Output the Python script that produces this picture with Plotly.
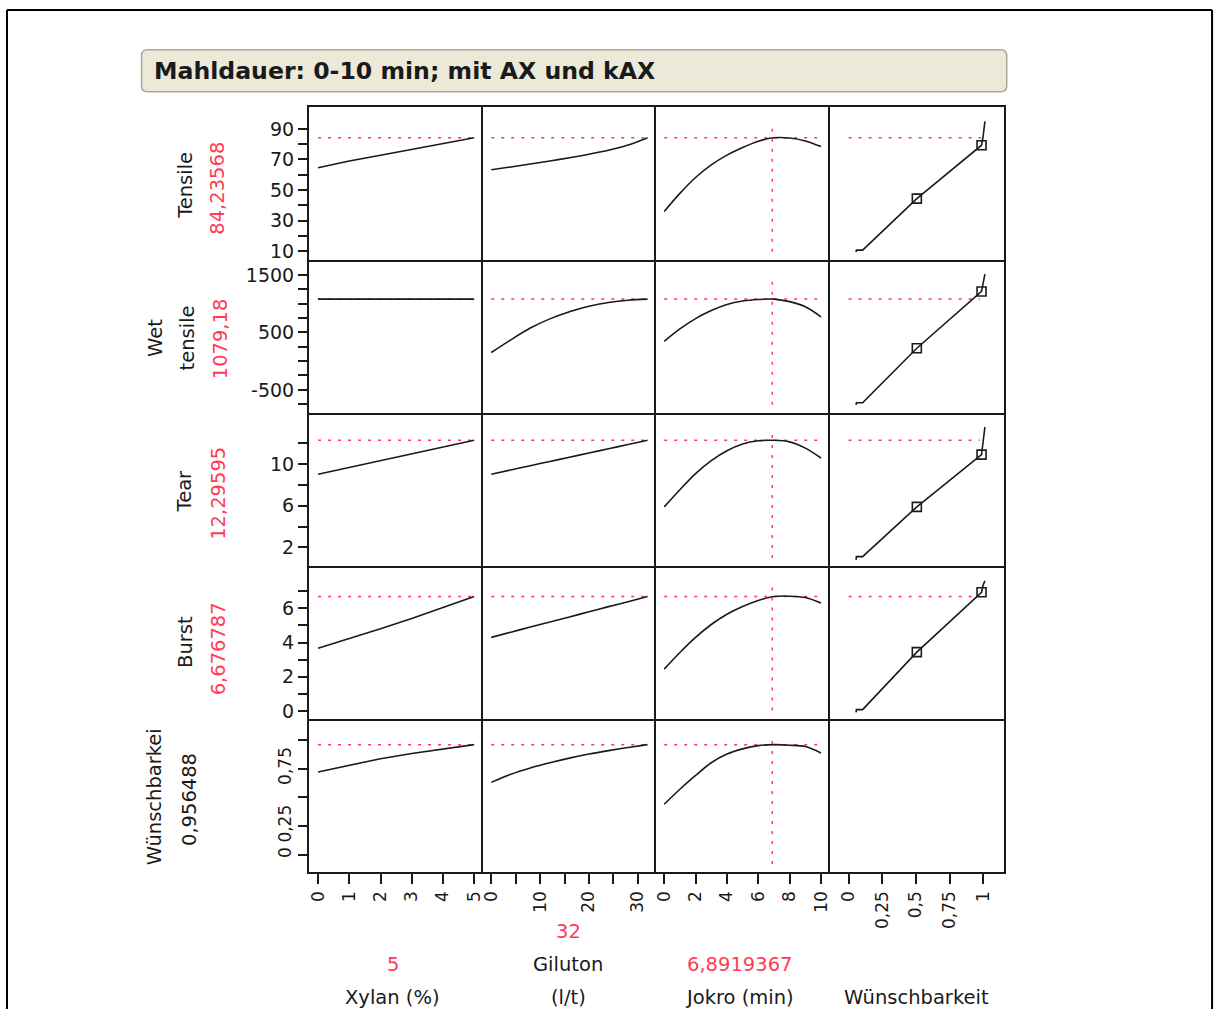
import plotly.graph_objects as go

factor_names = ["Xylan (%)", "Giluton (l/t)", "Jokro (min)"]
response_names = ["Tensile", "Wet tensile", "Tear", "Burst", "Wünschbarkeit"]

xylan_x = [0, 1, 2, 3, 4, 5]
giluton_x = [0, 4, 8, 12, 16, 20, 24, 28, 32]
jokro_x = [0, 1, 2, 3, 4, 5, 6, 7, 8, 9, 10]

tensile_xylan = [64.6, 69.0, 72.8, 76.6, 80.4, 84.24]
tensile_giluton = [63.3, 65.1, 67.0, 69.0, 71.1, 73.4, 76.0, 79.4, 84.24]
tensile_jokro = [36.0, 47.8, 58.2, 66.4, 72.8, 77.8, 81.9, 84.2, 84.0, 82.1, 78.4]

wet_xylan = [1079.18, 1079.18, 1079.18, 1079.18, 1079.18, 1079.18]
wet_giluton = [150, 370, 575, 735, 860, 955, 1020, 1060, 1079]
wet_jokro = [345, 560, 740, 880, 985, 1045, 1072, 1079, 1035, 945, 770]

tear_xylan = [9.04, 9.70, 10.35, 11.00, 11.65, 12.30]
tear_giluton = [9.04, 9.45, 9.86, 10.26, 10.67, 11.08, 11.49, 11.89, 12.30]
tear_jokro = [5.9, 7.55, 9.1, 10.35, 11.3, 11.95, 12.25, 12.3, 12.15, 11.55, 10.6]

burst_xylan = [3.67, 4.22, 4.80, 5.40, 6.03, 6.68]
burst_giluton = [4.30, 4.60, 4.90, 5.19, 5.49, 5.79, 6.09, 6.38, 6.68]
burst_jokro = [2.45, 3.42, 4.3, 5.05, 5.65, 6.1, 6.45, 6.68, 6.7, 6.62, 6.3]

desir_xylan = [0.72, 0.78, 0.835, 0.88, 0.92, 0.9565]
desir_giluton = [0.63, 0.70, 0.755, 0.80, 0.84, 0.875, 0.905, 0.932, 0.9565]
desir_jokro = [0.44, 0.57, 0.69, 0.80, 0.875, 0.92, 0.948, 0.9565, 0.952, 0.94, 0.885]

# desirability functions (x = desirability, y = response value)
desfun_d = [0.055, 0.058, 0.104, 0.507, 0.988, 1.0, 1.013]
desfun_tensile = [9.4, 10.7, 10.7, 44.4, 79.3, 85.1, 94.9]
desfun_wet = [-760, -725, -725, 224, 1212, 1396, 1512]
desfun_tear = [0.8, 1.11, 1.11, 5.9, 10.92, 12.14, 13.58]
desfun_burst = [-0.07, 0.09, 0.09, 3.44, 6.93, 7.35, 7.59]
desfun_marker_idx = [3, 4]

current_factor = [5, 32, 6.8919367]
current_response = [84.23568, 1079.18, 12.29595, 6.676787, 0.956488]
current_desir_each = [0.985, 0.975, 0.975, 0.97]

response_label_lines = [["Tensile"], ["Wet", "tensile"], ["Tear"], ["Burst"], ["Wünschbarkei"]]
response_value_text = ["84,23568", "1079,18", "12,29595", "6,676787", "0,956488"]
factor_label_lines = [["Xylan (%)"], ["Giluton", "(l/t)"], ["Jokro (min)"], ["Wünschbarkeit"]]
factor_value_text = ["5", "32", "6,8919367"]
title_text = "Mahldauer: 0-10 min; mit AX und kAX"

col_tickvals = [[0, 1, 2, 3, 4, 5],
                [0, 5, 10, 15, 20, 25, 30],
                [0, 2, 4, 6, 8, 10],
                [0, 0.25, 0.5, 0.75, 1]]
col_ticktext = [["0", "1", "2", "3", "4", "5"],
                ["0", "", "10", "", "20", "", "30"],
                ["0", "2", "4", "6", "8", "10"],
                ["0", "0,25", "0,5", "0,75", "1"]]
row_tickvals = [[10, 20, 30, 40, 50, 60, 70, 80, 90],
                [-750, -500, -250, 0, 250, 500, 750, 1000, 1250, 1500],
                [2, 4, 6, 8, 10, 12],
                [0, 1, 2, 3, 4, 5, 6, 7],
                [0, 0.25, 0.5, 0.75, 1]]
row_ticktext = [["10", "", "30", "", "50", "", "70", "", "90"],
                ["", "-500", "", "", "", "500", "", "", "", "1500"],
                ["2", "", "6", "", "10", ""],
                ["0", "", "2", "", "4", "", "6", ""],
                ["0", "0,25", "", "0,75", ""]]

# ---------------- layout constants ----------------
W, H = 1230, 1012
FONT = "DejaVu Sans"
RED = "#FF3B55"
INK = "#1a1a1a"
col_px = [307, 481.5, 655.5, 829.5, 1004]
row_px = [107, 261, 414.5, 568, 721, 875]
col_ranges = [[-0.29, 5.28], [-1.7, 33.8], [-0.5, 10.56], [-0.14, 1.153]]
row_ranges = [[4.1, 104.5], [-907, 1755], [0.18, 14.9], [-0.45, 8.44], [-0.15, 1.18]]


def px(x):
    return x / W


def py(y):
    return 1 - y / H


def ax(k):
    return "" if k == 1 else str(k)


factor_x = [xylan_x, giluton_x, jokro_x]
curves = [
    [tensile_xylan, tensile_giluton, tensile_jokro],
    [wet_xylan, wet_giluton, wet_jokro],
    [tear_xylan, tear_giluton, tear_jokro],
    [burst_xylan, burst_giluton, burst_jokro],
    [desir_xylan, desir_giluton, desir_jokro],
]
desfun_vals = [desfun_tensile, desfun_wet, desfun_tear, desfun_burst]

fig = go.Figure()
layout = dict(width=W, height=H, autosize=False,
              margin=dict(l=0, r=0, t=0, b=0),
              paper_bgcolor="white", plot_bgcolor="white",
              showlegend=False, font=dict(family=FONT, color=INK))
shapes = []
annotations = []
DASH = "3px,7px"

for r in range(5):
    for c in range(4):
        k = r * 4 + c + 1
        # bottom/left lines for every panel; top/right only on the outer edge
        xa = dict(domain=[px(col_px[c]), px(col_px[c + 1])], range=col_ranges[c],
                  anchor="y" + ax(k), showgrid=False, zeroline=False,
                  showline=True, mirror=(r == 0), linecolor=INK, linewidth=2,
                  fixedrange=True)
        ya = dict(domain=[py(row_px[r + 1]), py(row_px[r])], range=row_ranges[r],
                  anchor="x" + ax(k), showgrid=False, zeroline=False,
                  showline=True, mirror=(c == 3), linecolor=INK, linewidth=2,
                  fixedrange=True)
        if r == 4:
            xa.update(ticks="outside", ticklen=10, tickwidth=1.5, tickcolor=INK,
                      tickvals=col_tickvals[c], ticktext=col_ticktext[c],
                      tickangle=-90, showticklabels=True,
                      tickfont=dict(family=FONT, size=17, color=INK))
        else:
            xa.update(showticklabels=False, ticks="")
        if c == 0:
            ya.update(ticks="outside", ticklen=9, tickwidth=1.5, tickcolor=INK,
                      tickvals=row_tickvals[r], ticktext=row_ticktext[r],
                      showticklabels=True,
                      tickfont=dict(family=FONT, size=19 if r < 4 else 17, color=INK))
            if r == 4:
                ya.update(tickangle=-90)
        else:
            ya.update(showticklabels=False, ticks="")
        layout["xaxis" + ax(k)] = xa
        layout["yaxis" + ax(k)] = ya

        xr, yr = "x" + ax(k), "y" + ax(k)
        if c < 3:
            fx = factor_x[c]
            # red reference line at current response value
            fig.add_trace(go.Scatter(x=[fx[0], fx[-1]], y=[current_response[r]] * 2,
                                     mode="lines", line=dict(color=RED, width=1.5, dash=DASH),
                                     xaxis=xr, yaxis=yr, hoverinfo="skip"))
            fig.add_trace(go.Scatter(x=fx, y=curves[r][c], mode="lines",
                                     line=dict(color=INK, width=1.6,
                                               shape="spline" if c > 0 else "linear",
                                               smoothing=0.9),
                                     xaxis=xr, yaxis=yr, hoverinfo="skip"))
            if c == 2:
                shapes.append(dict(type="line", xref=xr, yref=yr + " domain",
                                   x0=current_factor[2], x1=current_factor[2],
                                   y0=0.055, y1=0.885,
                                   line=dict(color=RED, width=1.5, dash=DASH)))
        elif r < 4:
            fig.add_trace(go.Scatter(x=[0, current_desir_each[r]], y=[current_response[r]] * 2,
                                     mode="lines", line=dict(color=RED, width=1.5, dash=DASH),
                                     xaxis=xr, yaxis=yr, hoverinfo="skip"))
            fig.add_trace(go.Scatter(x=desfun_d, y=desfun_vals[r], mode="lines",
                                     line=dict(color=INK, width=1.6),
                                     xaxis=xr, yaxis=yr, hoverinfo="skip"))
            fig.add_trace(go.Scatter(x=[desfun_d[i] for i in desfun_marker_idx],
                                     y=[desfun_vals[r][i] for i in desfun_marker_idx],
                                     mode="markers",
                                     marker=dict(symbol="square-open", size=9, color=INK,
                                                 line=dict(width=1.6, color=INK)),
                                     xaxis=xr, yaxis=yr, hoverinfo="skip"))
        else:
            # empty panel: invisible trace so the box and its axis are drawn
            fig.add_trace(go.Scatter(x=[None], y=[None], mode="lines",
                                     xaxis=xr, yaxis=yr, hoverinfo="skip"))

# ---------------- title box ----------------
x0, x1, y0, y1 = px(139), px(1007), py(92), py(50)
rx, ry = 6 / W, 6 / H
path = (f"M {x0+rx},{y1} L {x1-rx},{y1} Q {x1},{y1} {x1},{y1-ry} L {x1},{y0+ry} "
        f"Q {x1},{y0} {x1-rx},{y0} L {x0+rx},{y0} Q {x0},{y0} {x0},{y0+ry} "
        f"L {x0},{y1-ry} Q {x0},{y1} {x0+rx},{y1} Z")
shapes.append(dict(type="path", xref="paper", yref="paper", path=path,
                   fillcolor="#ECE9D8", line=dict(color="#ACA899", width=1.5), layer="below"))
annotations.append(dict(text="<b>" + title_text + "</b>", x=px(149), y=py(71),
                        xref="paper", yref="paper", xanchor="left", yanchor="middle",
                        showarrow=False, font=dict(family=FONT, size=23.6, color=INK)))

# ---------------- outer frame ----------------
for (ax0, ay0, ax1, ay1) in [(4, 10, 1213, 10), (4, 10, 4, 1012), (1213, 10, 1213, 1012)]:
    shapes.append(dict(type="line", xref="paper", yref="paper",
                       x0=px(ax0), y0=py(ay0), x1=px(ax1), y1=py(ay1),
                       line=dict(color="black", width=2)))

# ---------------- response labels (left, rotated) ----------------
resp_label_pos = [  # (x centres of name lines, y centre, value x, value y)
    ([183], 186, 215, 189),
    ([153.5, 186], 339, 219, 340),
    ([182.5], 492, 216, 495),
    ([182.5], 644, 216, 651),
    ([152], 799, 187, 802),
]
for r in range(5):
    xs, yc, vx, vy = resp_label_pos[r]
    for line, lx in zip(response_label_lines[r], xs):
        annotations.append(dict(text=line, x=px(lx), y=py(yc), xref="paper", yref="paper",
                                textangle=-90, showarrow=False, xanchor="center", yanchor="middle",
                                font=dict(family=FONT, size=19.5, color=INK)))
    annotations.append(dict(text=response_value_text[r], x=px(vx), y=py(vy),
                            xref="paper", yref="paper", textangle=-90, showarrow=False,
                            xanchor="center", yanchor="middle",
                            font=dict(family=FONT, size=19.5, color=RED if r < 4 else INK)))

# ---------------- factor labels (bottom) ----------------
factor_label_pos = [  # (x centre, y centres of lines, value y)
    (391, [1000], 967),
    (567, [967, 1000], 934),
    (739, [1000], 967),
    (916, [1000], None),
]
for c in range(4):
    cx, ys, vy = factor_label_pos[c]
    for line, ly in zip(factor_label_lines[c], ys):
        annotations.append(dict(text=line, x=px(cx), y=py(ly), xref="paper", yref="paper",
                                showarrow=False, xanchor="center", yanchor="middle",
                                font=dict(family=FONT, size=19.5, color=INK)))
    if vy is not None:
        annotations.append(dict(text=factor_value_text[c], x=px(cx), y=py(vy),
                                xref="paper", yref="paper", showarrow=False,
                                xanchor="center", yanchor="middle",
                                font=dict(family=FONT, size=19.5, color=RED)))

layout["shapes"] = shapes
layout["annotations"] = annotations
fig.update_layout(**layout)
fig.write_html("out.html", config={"displayModeBar": False})
